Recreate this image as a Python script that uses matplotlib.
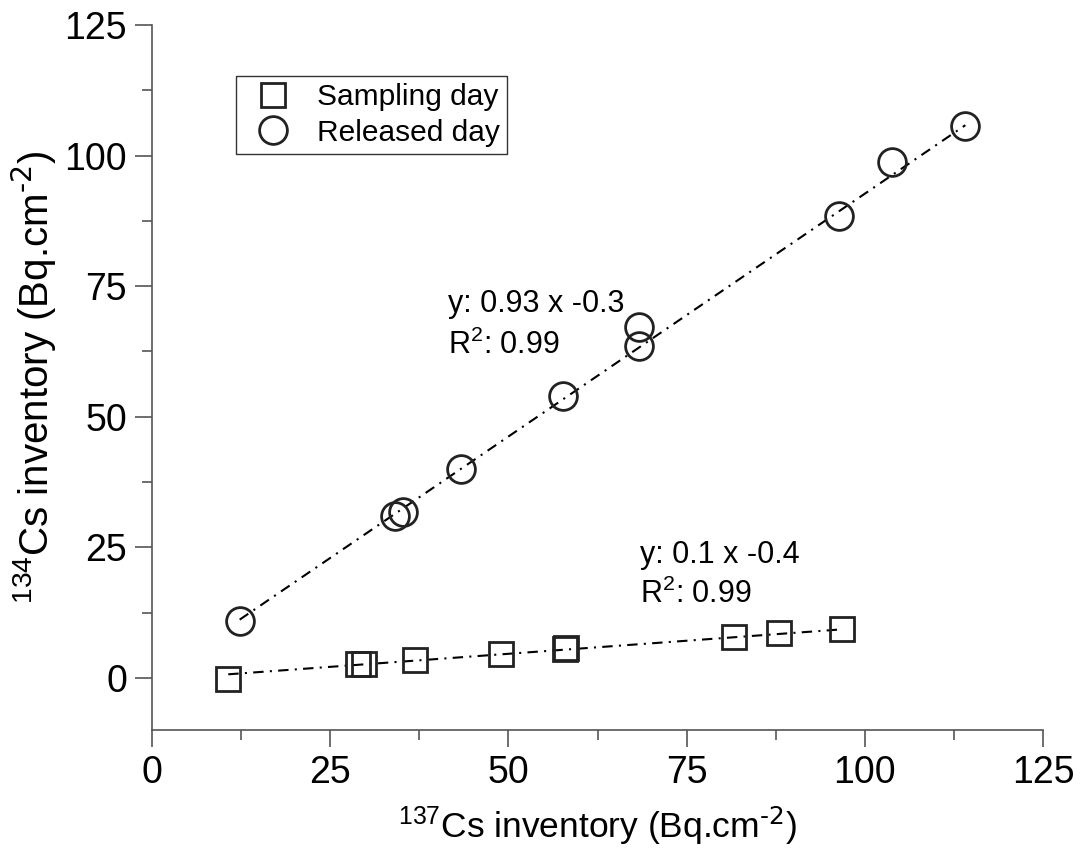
import numpy as np
import matplotlib
matplotlib.use("Agg")
import matplotlib.pyplot as plt
from matplotlib.ticker import MultipleLocator

plt.rcParams['font.family'] = ['Liberation Sans', 'DejaVu Sans']
plt.rcParams['mathtext.default'] = 'regular'

# 137Cs vs 134Cs inventories (Bq/cm2)
sampling_x = [10.7, 28.9, 29.7, 36.9, 49.0, 58.0, 58.1, 81.6, 88.0, 96.8]
sampling_y = [-0.2, 2.7, 2.7, 3.4, 4.6, 5.5, 5.8, 7.9, 8.6, 9.4]
released_x = [12.3, 34.1, 35.2, 43.4, 57.7, 68.3, 68.3, 96.4, 103.8, 114.1]
released_y = [10.9, 31.0, 31.8, 40.0, 54.0, 67.2, 63.6, 88.5, 98.7, 105.6]

# linear fits shown on the chart
sampling_fit = (0.1, -0.4)
released_fit = (0.93, -0.3)

fig = plt.figure(figsize=(10.81, 8.61), dpi=100)
ax = fig.add_axes([0.1406, 0.1521, 0.8243, 0.8189])

dash = (0, (5, 3, 1, 3))
xs = np.array([min(sampling_x), max(sampling_x)])
ax.plot(xs, sampling_fit[0] * xs + sampling_fit[1], color='black', lw=1.5, ls=dash, zorder=1)
xr = np.array([min(released_x), max(released_x)])
ax.plot(xr, released_fit[0] * xr + released_fit[1], color='black', lw=1.5, ls=dash, zorder=1)

ax.plot(sampling_x, sampling_y, ls='none', marker='s', ms=17, mfc='none',
        mec='#222222', mew=2, label='Sampling day', zorder=2)
ax.plot(released_x, released_y, ls='none', marker='o', ms=20, mfc='none',
        mec='#222222', mew=2, label='Released day', zorder=2)

ax.set_xlim(0, 125)
ax.set_ylim(-10, 125)
ax.xaxis.set_major_locator(MultipleLocator(25))
ax.xaxis.set_minor_locator(MultipleLocator(12.5))
ax.yaxis.set_major_locator(MultipleLocator(25))
ax.yaxis.set_minor_locator(MultipleLocator(12.5))

for side in ['top', 'right']:
    ax.spines[side].set_visible(False)
for side in ['left', 'bottom']:
    ax.spines[side].set_color('#555555')
    ax.spines[side].set_linewidth(1.2)

ax.tick_params(which='major', direction='out', length=12, width=1.2, color='#555555',
               labelsize=27, pad=6)
ax.tick_params(which='minor', direction='out', length=7, width=1.2, color='#555555')

ax.set_xlabel(r'$^{137}$Cs inventory (Bq.cm$^{\text{-2}}$)', fontsize=25.5, labelpad=10)
ax.set_ylabel(r'$^{134}$Cs inventory (Bq.cm$^{\text{-2}}$)', fontsize=29, labelpad=4)

ax.text(41.5, 71.5, 'y: 0.93 x -0.3', fontsize=22, va='center', ha='left')
ax.text(41.5, 63.7, 'R$^2$: 0.99', fontsize=22, va='center', ha='left')
ax.text(68.5, 23.6, 'y: 0.1 x -0.4', fontsize=22, va='center', ha='left')
ax.text(68.5, 16.0, 'R$^2$: 0.99', fontsize=22, va='center', ha='left')

leg = ax.legend(loc='upper left', bbox_to_anchor=(0.0943, 0.9277), borderaxespad=0,
                fontsize=21.5, frameon=True, fancybox=False, framealpha=1,
                edgecolor='#333333', handlelength=2.0, handletextpad=0.45,
                borderpad=0.25, labelspacing=0.25)
leg.get_frame().set_linewidth(1.0)

fig.savefig('out.png', dpi=100)
